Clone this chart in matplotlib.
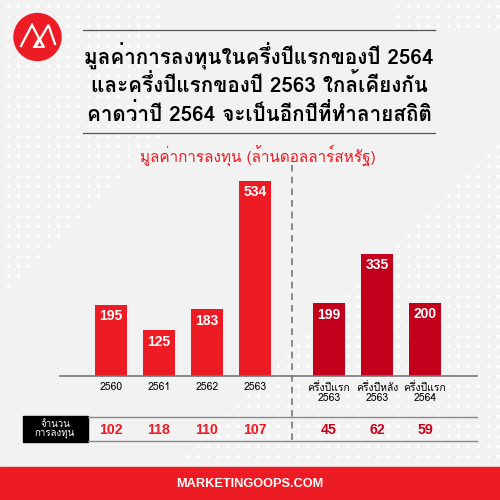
import matplotlib
matplotlib.use('Agg')
import numpy as np
import matplotlib.pyplot as plt
import matplotlib.patches as mpatches
from matplotlib import font_manager
from matplotlib.ft2font import FT2Font
from matplotlib.transforms import blended_transform_factory

# data
title_lines = ['มูลค่าการลงทุนในครึ่งปีแรกของปี 2564',
               'และครึ่งปีแรกของปี 2563 ใกล้เคียงกัน',
               'คาดว่าปี 2564 จะเป็นอีกปีที่ทำลายสถิติ']
subtitle = 'มูลค่าการลงทุน (ล้านดอลลาร์สหรัฐ)'
year_labels = ['2560', '2561', '2562', '2563']
year_values = [195, 125, 183, 534]
year_counts = [102, 118, 110, 107]
half_labels = ['ครึ่งปีแรก\n2563', 'ครึ่งปีหลัง\n2563', 'ครึ่งปีแรก\n2564']
half_values = [199, 335, 200]
half_counts = [45, 62, 59]
count_label = 'จำนวน\nการลงทุน'
footer = 'MARKETINGOOPS.COM'

# find a font that has Thai glyphs
thai_fonts = []
for f in font_manager.fontManager.ttflist:
    try:
        if 0x0E01 in FT2Font(f.fname).get_charmap():
            thai_fonts.append(f.name)
    except Exception:
        pass
families = list(dict.fromkeys(thai_fonts)) + ['DejaVu Sans']
plt.rcParams['font.family'] = families
NUM_FONT = ['Liberation Sans', 'DejaVu Sans']

RED = '#ed1c24'
DARK_RED = '#c2001b'
BG = '#f2f2f2'

fig = plt.figure(figsize=(5, 5), dpi=100, facecolor=BG)

# background axes in pixel coords
bg = fig.add_axes([0, 0, 1, 1])
bg.set_xlim(0, 500)
bg.set_ylim(500, 0)
bg.axis('off')
bg.set_facecolor(BG)

# decorative dot pattern
gx, gy = np.meshgrid(np.arange(8, 500, 10), np.arange(6, 460, 10))
gx, gy = gx.ravel(), gy.ravel()
left_zone = (gx + np.clip(gy - 140, 0, None) < 160) & (gy < 290)
right_zone = (gx > 500 - (gy - 140)) & (gy > 140)
top_right = (gx > 390) & (gy < 30)
keep = left_zone | right_zone | top_right
bg.scatter(gx[keep], gy[keep], s=6, color='white', linewidths=0, zorder=0)

# logo
bg.add_patch(mpatches.Circle((37.5, 37), 23.5, color=RED))
bg.plot([21, 32, 43], [46, 25, 46], color='white', lw=1.6, solid_joinstyle='miter')
bg.plot([36, 48.5, 55], [46, 25, 44], color='white', lw=1.6, solid_joinstyle='miter')
bg.plot([34, 39, 44, 34], [47, 38, 47, 47], color='white', lw=1.3)

# title rules and title
bg.plot([83, 435], [30, 30], color='#555555', lw=0.9)
bg.plot([83, 435], [133, 133], color='#555555', lw=0.9)
for i, line in enumerate(title_lines):
    bg.text(259, 56 + i * 29, line, ha='center', va='center',
            fontsize=14.9, fontweight='bold', color='black')
bg.text(258, 155, subtitle, ha='center', va='center', fontsize=11, color=RED)

# footer band
bg.add_patch(mpatches.Rectangle((0, 467), 500, 33, color=RED))
bg.text(250, 484, footer, ha='center', va='center', fontsize=9.2,
        fontweight='bold', color='white', family=NUM_FONT)

# bar axes
gap = 74 / 48
xs_year = list(range(len(year_values)))
xs_half = [len(year_values) - 1 + gap + i for i in range(len(half_values))]
ax = fig.add_axes([60 / 500, 124 / 500, 417 / 500, 211 / 500])
ax.set_facecolor('none')
ax.bar(xs_year, year_values, width=0.667, color=RED)
ax.bar(xs_half, half_values, width=0.667, color=DARK_RED)
ax.set_xlim(-51 / 48, 366 / 48)
ax.set_ylim(0, 578)
for s in ['top', 'right', 'left']:
    ax.spines[s].set_visible(False)
ax.spines['bottom'].set_color('#777777')
ax.spines['bottom'].set_linewidth(1.2)
ax.set_yticks([])
ax.set_xticks(xs_year + xs_half)
ax.set_xticklabels(year_labels + half_labels, fontsize=7.5, linespacing=1.0)
ax.tick_params(axis='x', length=0, pad=4)

for x, v in zip(xs_year + xs_half, year_values + half_values):
    ax.text(x, v - 12, str(v), ha='center', va='top', color='white',
            fontsize=10, fontweight='bold', family=NUM_FONT)

# table row under the axis
tr = blended_transform_factory(ax.transData, fig.transFigure)
ty = 1 - 430 / 500
for x, c in zip(xs_year, year_counts):
    ax.text(x, ty, str(c), transform=tr, ha='center', va='center',
            color=RED, fontsize=10.2, fontweight='bold', family=NUM_FONT)
for x, c in zip(xs_half, half_counts):
    ax.text(x, ty, str(c), transform=tr, ha='center', va='center',
            color=DARK_RED, fontsize=10.2, fontweight='bold', family=NUM_FONT)

bg.plot([88, 477], [417, 417], color='#888888', lw=1)
bg.plot([88, 477], [441, 441], color='#888888', lw=1)
bg.add_patch(mpatches.Rectangle((22.5, 416), 65.5, 26, color='black'))
bg.text(55, 429, count_label, ha='center', va='center', color='white',
        fontsize=7, linespacing=0.95)

# dashed separator
sep = (xs_year[-1] + xs_half[0]) / 2
ax.plot([sep, sep], [1 - 440 / 500, 1 - 165 / 500], transform=tr,
        color='#777777', lw=1.2, ls=(0, (4, 3)), clip_on=False)

plt.savefig('out.png', dpi=100, facecolor=BG)
